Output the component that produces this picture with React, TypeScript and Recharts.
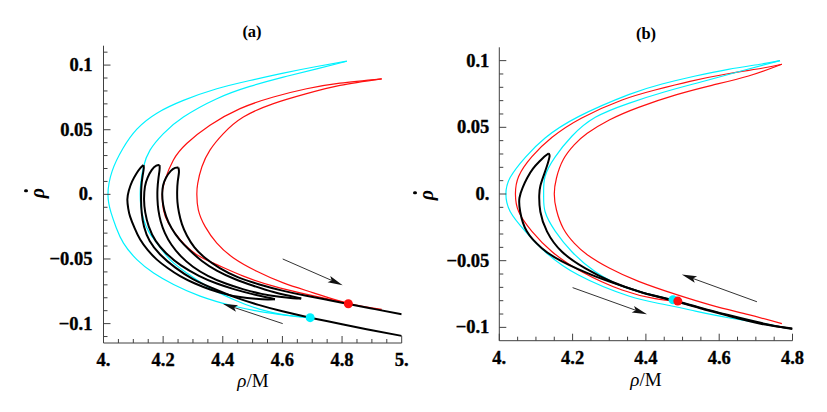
import React from "react";
import { ComposedChart, Line, Scatter, XAxis, YAxis, ReferenceLine } from "recharts";

const SERIF = "Liberation Serif";
const FRAME = "#404040";
const CYAN = "#00f2ff";
const RED = "#ff1010";
const INK = "#000";

// ---- panel (a) axes ----
const A_X_TICKS = [4, 4.05, 4.1, 4.15, 4.2, 4.25, 4.3, 4.35, 4.4, 4.45, 4.5, 4.55, 4.6, 4.65, 4.7, 4.75, 4.8, 4.85, 4.9, 4.95, 5];
const A_X_MAJOR = [4, 4.2, 4.4, 4.6, 4.8, 5];
const A_X_LABELS = ["4.", "4.2", "4.4", "4.6", "4.8", "5."];
const A_Y_TICKS = [-0.11, -0.1, -0.09, -0.08, -0.07, -0.06, -0.05, -0.04, -0.03, -0.02, -0.01, 0, 0.01, 0.02, 0.03, 0.04, 0.05, 0.06, 0.07, 0.08, 0.09, 0.1, 0.11];

// ---- panel (b) axes ----
const B_X_TICKS = [4, 4.05, 4.1, 4.15, 4.2, 4.25, 4.3, 4.35, 4.4, 4.45, 4.5, 4.55, 4.6, 4.65, 4.7, 4.75, 4.8];
const B_X_MAJOR = [4, 4.2, 4.4, 4.6, 4.8];
const B_X_LABELS = ["4.", "4.2", "4.4", "4.6", "4.8"];
const B_Y_TICKS = [-0.1, -0.09, -0.08, -0.07, -0.06, -0.05, -0.04, -0.03, -0.02, -0.01, 0, 0.01, 0.02, 0.03, 0.04, 0.05, 0.06, 0.07, 0.08, 0.09, 0.1];

const Y_MAJOR = [-0.1, -0.05, 0, 0.05, 0.1];
const Y_LABELS = ["\u22120.1", "\u22120.05", "0.", "0.05", "0.1"];

// ---- panel (a) curves: [rho/M, rho-dot] ----
const A_CYAN_OUTER = [[4.816, 0.103], [4.715, 0.0989], [4.603, 0.0938], [4.491, 0.0881], [4.38, 0.0817], [4.268, 0.0727], [4.179, 0.0628], [4.112, 0.0505], [4.065, 0.0355], [4.029, 0.018], [4.015, 0], [4.025, -0.014], [4.043, -0.026], [4.067, -0.0377], [4.112, -0.0505], [4.168, -0.0608], [4.235, -0.0697], [4.324, -0.0787], [4.436, -0.0864], [4.547, -0.0915], [4.637, -0.0941], [4.693, -0.0954]];
const A_CYAN_INNER = [[4.816, 0.103], [4.715, 0.0971], [4.603, 0.0907], [4.491, 0.0835], [4.38, 0.074], [4.268, 0.0598], [4.201, 0.047], [4.156, 0.0342], [4.134, 0.0213], [4.125, 0.009], [4.123, 0], [4.125, -0.009], [4.134, -0.019], [4.152, -0.029], [4.179, -0.0377], [4.223, -0.0505], [4.279, -0.0608], [4.346, -0.071], [4.436, -0.0813], [4.525, -0.089], [4.615, -0.0936], [4.693, -0.0954]];
const A_RED_1 = [[4.933, 0.0894], [4.793, 0.086], [4.681, 0.0817], [4.57, 0.0753], [4.458, 0.0663], [4.357, 0.0534], [4.279, 0.0393], [4.234, 0.0264], [4.206, 0.011], [4.197, 0], [4.201, -0.012], [4.218, -0.0223], [4.257, -0.0351], [4.313, -0.0467], [4.38, -0.0544], [4.469, -0.0633], [4.57, -0.071], [4.682, -0.0774], [4.821, -0.0844]];
const A_RED_2 = [[4.933, 0.0894], [4.793, 0.0843], [4.681, 0.0779], [4.57, 0.0702], [4.469, 0.0598], [4.402, 0.047], [4.357, 0.0342], [4.33, 0.0213], [4.316, 0.0085], [4.313, 0], [4.318, -0.012], [4.341, -0.025], [4.38, -0.0377], [4.436, -0.0492], [4.514, -0.0595], [4.603, -0.0685], [4.704, -0.0762], [4.821, -0.0844], [4.933, -0.089]];

const A_BLACK_1 = [[5, -0.1095], [4.9, -0.1052], [4.8, -0.1005], [4.693, -0.0954], [4.6, -0.0905], [4.52, -0.0855], [4.44, -0.0795], [4.37, -0.073], [4.3, -0.0655], [4.24, -0.0565], [4.19, -0.0465], [4.155, -0.036], [4.136, -0.025], [4.128, -0.014], [4.126, -0.004], [4.127, 0.006], [4.131, 0.014], [4.135, 0.02], [4.134, 0.0226]];
const A_BLACK_2 = [[4.134, 0.0226], [4.124, 0.0205], [4.11, 0.016], [4.096, 0.01], [4.085, 0.003], [4.08, -0.004], [4.083, -0.011], [4.089, -0.017], [4.104, -0.026], [4.123, -0.035], [4.148, -0.043], [4.179, -0.0505], [4.215, -0.057], [4.257, -0.0633], [4.305, -0.0688], [4.358, -0.0736], [4.41, -0.0772], [4.458, -0.0795], [4.51, -0.0808], [4.55, -0.0813], [4.575, -0.0812]];
const A_BLACK_3 = [[4.575, -0.0812], [4.55, -0.0798], [4.5, -0.0772], [4.44, -0.0735], [4.38, -0.069], [4.32, -0.063], [4.26, -0.055], [4.21, -0.0455], [4.175, -0.036], [4.152, -0.025], [4.14, -0.014], [4.136, -0.004], [4.139, 0.006], [4.148, 0.013], [4.162, 0.019], [4.177, 0.0222], [4.188, 0.0226]];
const A_BLACK_4 = [[4.188, 0.0226], [4.188, 0.019], [4.184, 0.012], [4.181, 0.004], [4.181, -0.004], [4.184, -0.012], [4.192, -0.021], [4.206, -0.03], [4.228, -0.039], [4.26, -0.048], [4.3, -0.056], [4.35, -0.063], [4.41, -0.069], [4.47, -0.0735], [4.53, -0.077], [4.59, -0.0793], [4.635, -0.0803], [4.663, -0.0805]];
const A_BLACK_5 = [[4.663, -0.0805], [4.63, -0.0788], [4.57, -0.0755], [4.5, -0.0705], [4.44, -0.0655], [4.38, -0.059], [4.33, -0.0515], [4.29, -0.0435], [4.255, -0.035], [4.228, -0.026], [4.21, -0.017], [4.2, -0.008], [4.197, 0], [4.2, 0.007], [4.21, 0.013], [4.225, 0.018], [4.24, 0.0205], [4.251, 0.0208]];
const A_BLACK_6 = [[4.251, 0.0208], [4.253, 0.017], [4.249, 0.01], [4.247, 0.002], [4.248, -0.006], [4.253, -0.014], [4.263, -0.023], [4.28, -0.032], [4.305, -0.041], [4.34, -0.049], [4.39, -0.057], [4.45, -0.064], [4.52, -0.0695], [4.6, -0.0745], [4.68, -0.0785], [4.75, -0.0815], [4.821, -0.0848], [4.91, -0.0888], [5, -0.0928]];

const A_CYAN_DOT = [[4.693, -0.0954]];
const A_RED_DOT = [[4.821, -0.0846]];
const A_ARROWS = [[[4.601, -0.05], [4.802, -0.0703]], [[4.601, -0.1], [4.4, -0.0846]]];

// ---- panel (b) curves ----
const B_CYAN_OUTER = [[4.766, 0.1], [4.716, 0.0975], [4.625, 0.0935], [4.535, 0.0885], [4.444, 0.0825], [4.353, 0.0745], [4.216, 0.058], [4.125, 0.042], [4.071, 0.0275], [4.03, 0.0125], [4.018, 0], [4.03, -0.0133], [4.071, -0.028], [4.125, -0.0433], [4.216, -0.0608], [4.353, -0.0765], [4.444, -0.0825], [4.535, -0.0878], [4.625, -0.0928], [4.716, -0.097], [4.778, -0.1002]];
const B_RED_1 = [[4.771, 0.0973], [4.72, 0.0945], [4.62, 0.09], [4.52, 0.0845], [4.425, 0.078], [4.335, 0.0705], [4.225, 0.057], [4.144, 0.0425], [4.089, 0.028], [4.053, 0.0133], [4.044, 0], [4.053, -0.0133], [4.089, -0.028], [4.144, -0.0433], [4.225, -0.0583], [4.335, -0.072], [4.425, -0.0785], [4.486, -0.0805]];
const B_CYAN_INNER = [[4.766, 0.1], [4.65, 0.0915], [4.55, 0.084], [4.45, 0.0765], [4.353, 0.068], [4.262, 0.0575], [4.198, 0.0433], [4.153, 0.028], [4.125, 0.0133], [4.121, 0], [4.125, -0.0133], [4.153, -0.028], [4.198, -0.0433], [4.262, -0.0583], [4.353, -0.0708], [4.474, -0.0793]];
const B_RED_2 = [[4.771, 0.0973], [4.68, 0.0885], [4.58, 0.0815], [4.484, 0.0745], [4.38, 0.065], [4.3, 0.0555], [4.24, 0.0455], [4.205, 0.037], [4.175, 0.026], [4.156, 0.012], [4.15, 0], [4.156, -0.012], [4.175, -0.026], [4.205, -0.037], [4.24, -0.0455], [4.3, -0.0555], [4.38, -0.0655], [4.484, -0.0755], [4.58, -0.0835], [4.68, -0.0905], [4.771, -0.0972]];
const B_BLACK_1 = [[4.8, -0.1012], [4.716, -0.0968], [4.625, -0.0908], [4.553, -0.0856], [4.48, -0.08], [4.416, -0.0758], [4.353, -0.0706], [4.262, -0.0618], [4.171, -0.0506], [4.116, -0.0406], [4.075, -0.028], [4.057, -0.0133], [4.055, -0.003], [4.064, 0.005], [4.076, 0.012], [4.092, 0.019], [4.11, 0.0245], [4.125, 0.0285], [4.135, 0.0305]];
const B_BLACK_2 = [[4.135, 0.0305], [4.137, 0.028], [4.13, 0.021], [4.12, 0.013], [4.112, 0.006], [4.109, -0.001], [4.112, -0.0133], [4.13, -0.028], [4.171, -0.0433], [4.235, -0.0558], [4.307, -0.0658], [4.389, -0.0738], [4.48, -0.0804], [4.553, -0.0861], [4.625, -0.0913], [4.716, -0.0974], [4.8, -0.1008]];

const B_CYAN_DOT = [[4.474, -0.0793]];
const B_RED_DOT = [[4.487, -0.0803]];
const B_ARROWS = [[[4.2, -0.0702], [4.403, -0.0902]], [[4.703, -0.0808], [4.498, -0.0603]]];

const pts = (a: number[][]) => a.map(([x, y]) => ({ x, y }));
const majorIndex = (v: number, majors: number[]) => majors.findIndex((m) => Math.abs(m - v) < 1e-9);

const TickText = (p: { x: number; y: number; anchor: "middle" | "end"; children: string }) => (
  <text
    x={p.x}
    y={p.y}
    textAnchor={p.anchor}
    fontFamily={SERIF}
    fontWeight="bold"
    fontSize={18.5}
    fill={INK}
    stroke={INK}
    strokeWidth={0.35}
  >
    {p.children}
  </text>
);

const bottomTick = (majors: number[], labels: string[]) => (p: any) => {
  const i = majorIndex(p.payload.value, majors);
  return (
    <g>
      <line x1={p.x} y1={p.y} x2={p.x} y2={p.y - (i >= 0 ? 7 : 4)} stroke={FRAME} />
      {i >= 0 && <TickText x={p.x} y={p.y + 23} anchor="middle">{labels[i]}</TickText>}
    </g>
  );
};
const topTick = (majors: number[]) => (p: any) => {
  const i = majorIndex(p.payload.value, majors);
  return <line x1={p.x} y1={p.y} x2={p.x} y2={p.y + (i >= 0 ? 7 : 4)} stroke={FRAME} />;
};
const leftTick = (gap: number) => (p: any) => {
  const i = majorIndex(p.payload.value, Y_MAJOR);
  return (
    <g>
      <line x1={p.x} y1={p.y} x2={p.x + (i >= 0 ? 7 : 4)} y2={p.y} stroke={FRAME} />
      {i >= 0 && <TickText x={p.x - gap} y={p.y + 6} anchor="end">{Y_LABELS[i]}</TickText>}
    </g>
  );
};
const rightTick = (p: any) => {
  const i = majorIndex(p.payload.value, Y_MAJOR);
  return <line x1={p.x} y1={p.y} x2={p.x - (i >= 0 ? 7 : 4)} y2={p.y} stroke={FRAME} />;
};

function Arrow(p: any) {
  const { x1, y1, x2, y2 } = p;
  const ang = Math.atan2(y2 - y1, x2 - x1);
  const L = 15;
  const W = 3.4;
  const bx = x2 - L * Math.cos(ang);
  const by = y2 - L * Math.sin(ang);
  const nx = -Math.sin(ang) * W;
  const ny = Math.cos(ang) * W;
  const mx = x2 - (L - 3) * Math.cos(ang);
  const my = y2 - (L - 3) * Math.sin(ang);
  return (
    <g>
      <line x1={x1} y1={y1} x2={mx} y2={my} stroke="#333" strokeWidth={1} />
      <polygon points={`${x2},${y2} ${bx + nx},${by + ny} ${mx},${my} ${bx - nx},${by - ny}`} fill="#111" />
    </g>
  );
}

const dotShape = (fill: string) => (p: any) => <circle cx={p.cx} cy={p.cy} r={4.5} fill={fill} />;

interface PanelProps {
  left: number;
  width: number;
  margin: { top: number; right: number; left: number; bottom: number };
  yAxisWidth: number;
  xAxisHeight: number;
  xDomain: number[];
  yDomain: number[];
  xTicks: number[];
  xMajor: number[];
  xLabels: string[];
  yTicks: number[];
  labelGap: number;
  thin: number[][][];
  thinColors: string[];
  black: number[][][];
  cyanDot: number[][];
  redDot: number[][];
  arrows: number[][][];
}

function Panel(props: PanelProps) {
  const { left, width, margin, yAxisWidth, xAxisHeight, xDomain, yDomain, xTicks, xMajor, xLabels, yTicks, labelGap } = props;
  return (
    <div style={{ position: "absolute", left, top: 0 }}>
      <ComposedChart width={width} height={412} margin={margin}>
        <XAxis
          xAxisId={0}
          dataKey="x"
          type="number"
          domain={xDomain}
          ticks={xTicks}
          interval={0}
          allowDataOverflow
          height={xAxisHeight}
          tickSize={0}
          tickMargin={0}
          tickLine={false}
          axisLine={{ stroke: FRAME }}
          tick={bottomTick(xMajor, xLabels)}
        />
        <XAxis
          xAxisId="top"
          orientation="top"
          type="number"
          domain={xDomain}
          ticks={xTicks}
          interval={0}
          allowDataOverflow
          height={0}
          tickSize={0}
          tickMargin={0}
          tickLine={false}
          axisLine={{ stroke: FRAME }}
          tick={topTick(xMajor)}
        />
        <YAxis
          yAxisId={0}
          dataKey="y"
          type="number"
          domain={yDomain}
          ticks={yTicks}
          interval={0}
          allowDataOverflow
          width={yAxisWidth}
          tickSize={0}
          tickMargin={0}
          tickLine={false}
          axisLine={{ stroke: FRAME }}
          tick={leftTick(labelGap)}
        />
        <YAxis
          yAxisId="right"
          orientation="right"
          type="number"
          domain={yDomain}
          ticks={yTicks}
          interval={0}
          allowDataOverflow
          width={0}
          tickSize={0}
          tickMargin={0}
          tickLine={false}
          axisLine={{ stroke: FRAME }}
          tick={rightTick}
        />
        {props.thin.map((c, i) => (
          <Line
            key={"t" + i}
            data={pts(c)}
            dataKey="y"
            type="natural"
            stroke={props.thinColors[i]}
            strokeWidth={1.2}
            dot={false}
            activeDot={false}
            isAnimationActive={false}
          />
        ))}
        {props.black.map((c, i) => (
          <Line
            key={"b" + i}
            data={pts(c)}
            dataKey="y"
            type="natural"
            stroke={INK}
            strokeWidth={2}
            dot={false}
            activeDot={false}
            isAnimationActive={false}
          />
        ))}
        <Scatter data={pts(props.cyanDot)} dataKey="y" shape={dotShape(CYAN)} isAnimationActive={false} />
        <Scatter data={pts(props.redDot)} dataKey="y" shape={dotShape(RED)} isAnimationActive={false} />
        {props.arrows.map((a, i) => (
          <ReferenceLine
            key={"a" + i}
            segment={[
              { x: a[0][0], y: a[0][1] },
              { x: a[1][0], y: a[1][1] },
            ]}
            shape={Arrow}
          />
        ))}
      </ComposedChart>
    </div>
  );
}

const textBase: React.CSSProperties = { position: "absolute", fontFamily: SERIF, color: INK, whiteSpace: "nowrap", lineHeight: 1 };

function Title({ x, y, children }: { x: number; y: number; children: React.ReactNode }) {
  return <div style={{ ...textBase, left: x, top: y, transform: "translate(-50%, -50%)", fontWeight: 700, fontSize: 16.5 }}>{children}</div>;
}

function XLabel({ x, y }: { x: number; y: number }) {
  return (
    <div style={{ ...textBase, left: x, top: y, transform: "translate(-50%, -50%)", fontSize: 19 }}>
      <i>ρ</i>/M
    </div>
  );
}

function YLabel({ x, y }: { x: number; y: number }) {
  return (
    <div style={{ ...textBase, left: x, top: y, transform: "translate(-50%, -50%) rotate(-90deg)", fontSize: 20, fontWeight: 700, fontStyle: "italic" }}>
      <span style={{ position: "relative", display: "inline-block" }}>
        ρ
        <span style={{ position: "absolute", left: "58%", top: -3, width: 3.5, height: 3.5, borderRadius: "50%", background: INK }} />
      </span>
    </div>
  );
}

export default function App() {
  return (
    <div style={{ position: "absolute", left: 0, top: 0, width: 827, height: 412, background: "#fff", overflow: "hidden" }}>
      <Panel
        left={0}
        width={413}
        margin={{ top: 45.7, right: 11.3, left: 0, bottom: 0 }}
        yAxisWidth={103.5}
        xAxisHeight={69}
        xDomain={[4, 5]}
        yDomain={[-0.115, 0.115]}
        xTicks={A_X_TICKS}
        xMajor={A_X_MAJOR}
        xLabels={A_X_LABELS}
        yTicks={A_Y_TICKS}
        labelGap={11}
        thin={[A_CYAN_OUTER, A_CYAN_INNER, A_RED_1, A_RED_2]}
        thinColors={[CYAN, CYAN, RED, RED]}
        black={[A_BLACK_1, A_BLACK_2, A_BLACK_3, A_BLACK_4, A_BLACK_5, A_BLACK_6]}
        cyanDot={A_CYAN_DOT}
        redDot={A_RED_DOT}
        arrows={A_ARROWS}
      />
      <Panel
        left={413}
        width={414}
        margin={{ top: 47.3, right: 34.5, left: 0, bottom: 0 }}
        yAxisWidth={86.3}
        xAxisHeight={71.3}
        xDomain={[4, 4.8]}
        yDomain={[-0.11, 0.11]}
        xTicks={B_X_TICKS}
        xMajor={B_X_MAJOR}
        xLabels={B_X_LABELS}
        yTicks={B_Y_TICKS}
        labelGap={10}
        thin={[B_CYAN_OUTER, B_RED_1, B_CYAN_INNER, B_RED_2]}
        thinColors={[CYAN, RED, CYAN, RED]}
        black={[B_BLACK_1, B_BLACK_2]}
        cyanDot={B_CYAN_DOT}
        redDot={B_RED_DOT}
        arrows={B_ARROWS}
      />
      <Title x={252} y={32}>(a)</Title>
      <Title x={646} y={34}>(b)</Title>
      <XLabel x={253} y={380} />
      <XLabel x={646} y={379} />
      <YLabel x={37} y={193} />
      <YLabel x={426} y={195} />
    </div>
  );
}
